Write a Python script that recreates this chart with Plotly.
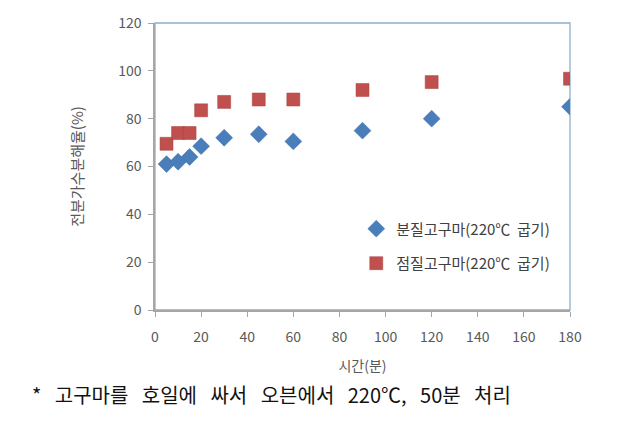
import plotly.graph_objects as go

time_min = [5, 10, 15, 20, 30, 45, 60, 90, 120, 180]
powdery = [61, 62, 64, 68.5, 72, 73.5, 70.5, 75, 80, 85]
waxy = [69.5, 74, 74, 83.5, 87, 88, 88, 92, 95.3, 96.7]

name_powdery = "분질고구마(220℃  굽기)"
name_waxy = "점질고구마(220℃  굽기)"
x_title = "시간(분)"
y_title = "전분가수분해율(%)"
caption = "* 고구마를 호일에 싸서 오븐에서 220℃, 50분 처리"

FONT = "Noto Sans CJK KR"

fig = go.Figure()
fig.add_trace(go.Scatter(
    x=time_min, y=powdery, mode="markers", name=name_powdery, legendgroup="a",
    marker=dict(symbol="diamond", size=13, color="#4A7EBB",
                line=dict(width=0.5, color="#3F6FA8")),
))
fig.add_trace(go.Scatter(
    x=time_min, y=waxy, mode="markers", name=name_waxy, legendgroup="b",
    marker=dict(symbol="square", size=13, color="#C0504D",
                line=dict(width=0.5, color="#A8403D")),
))

# frame (top/right border in light blue-grey)
fig.add_shape(type="rect", xref="paper", yref="paper", x0=0, y0=0, x1=1, y1=1,
              line=dict(color="#8FAFCB", width=1.3), layer="below")

fig.update_layout(
    width=617, height=428,
    margin=dict(l=147, r=55, t=15, b=126, autoexpand=False),
    paper_bgcolor="white", plot_bgcolor="white",
    font=dict(family=FONT, size=14, color="#595959"),
    showlegend=True,
    legend=dict(x=0.485, y=0.34, xanchor="left", yanchor="top",
                bgcolor="rgba(0,0,0,0)", tracegroupgap=12,
                font=dict(size=15, color="#404040"), itemwidth=30),
    xaxis=dict(
        range=[0, 180], tickvals=[0, 20, 40, 60, 80, 100, 120, 140, 160, 180],
        showgrid=False, zeroline=False, showline=True, linecolor="#A6A6A6",
        linewidth=1.5, ticks="outside", ticklen=5, tickcolor="#A6A6A6",
        ticklabelstandoff=8,
        tickfont=dict(size=14, color="#595959"), automargin=False,
        title=dict(text=x_title, font=dict(size=14, color="#595959"), standoff=17),
    ),
    yaxis=dict(
        range=[0, 120], tickvals=[0, 20, 40, 60, 80, 100, 120],
        showgrid=False, zeroline=False, showline=True, linecolor="#A6A6A6",
        linewidth=1.5, ticks="outside", ticklen=5, tickcolor="#A6A6A6",
        ticklabelstandoff=4,
        tickfont=dict(size=14, color="#595959"), automargin=False,
        title=dict(text=y_title, font=dict(size=15, color="#595959"), standoff=31),
    ),
)

fig.add_annotation(
    text=caption.replace(" ", "   "), xref="paper", yref="paper", x=-0.301, y=-0.296,
    xanchor="left", yanchor="middle", showarrow=False,
    font=dict(family=FONT, size=20, color="#111111"),
)

fig.write_html("out.html")
